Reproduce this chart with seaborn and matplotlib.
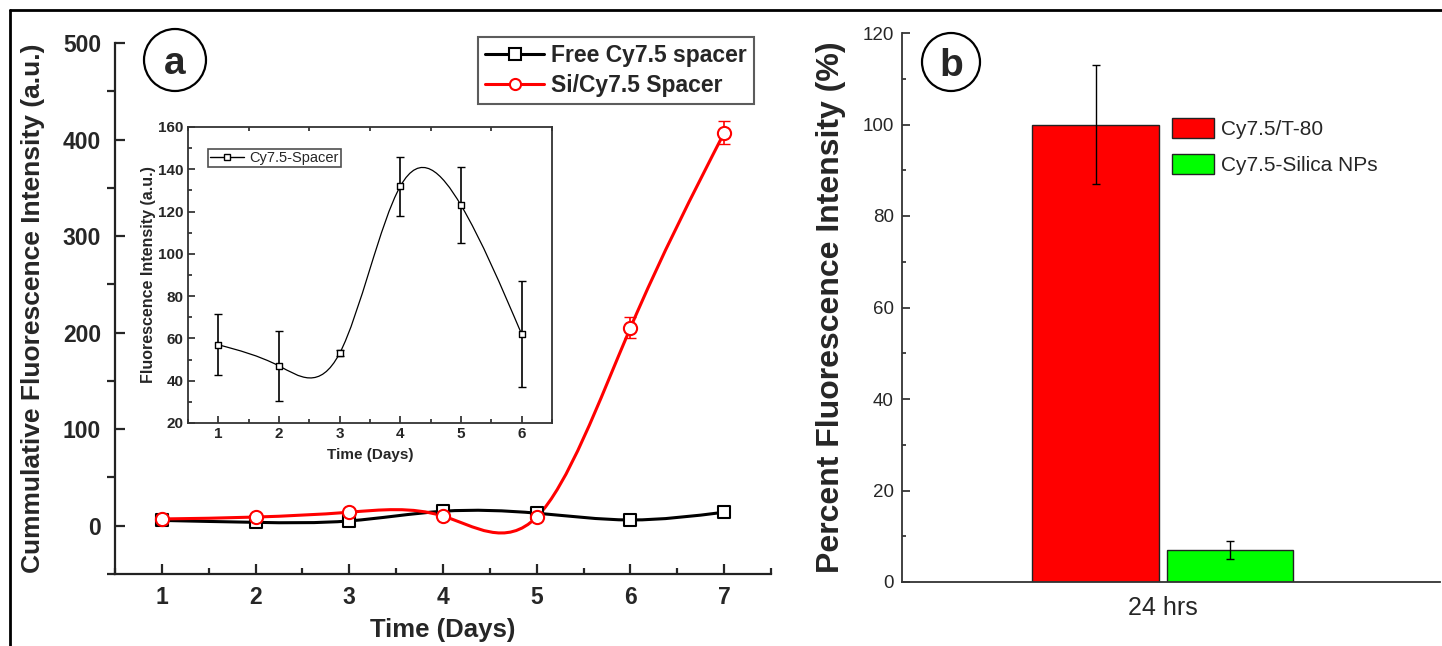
import numpy as np
import pandas as pd
import seaborn as sns
import matplotlib
matplotlib.use('Agg')
import matplotlib.pyplot as plt
from matplotlib.path import Path
from matplotlib.patches import PathPatch, Ellipse, Patch
from matplotlib.lines import Line2D
from matplotlib.ticker import MultipleLocator

# panel a - cumulative release
days = [1, 2, 3, 4, 5, 6, 7]
free_cy75 = [5.5, 3.5, 5, 15, 13, 6, 14]
free_cy75_err = [1.5, 1.5, 1.5, 2, 2, 1.5, 2]
si_cy75 = [7, 9, 14, 10, 9, 205, 407]
si_cy75_err = [2, 2, 2, 3, 3, 11, 12]

# inset
inset_days = [1, 2, 3, 4, 5, 6]
inset_spacer = [57, 47, 53, 132, 123, 62]
inset_err = [14.5, 16.5, 1.5, 14, 18, 25]

# panel b
bar_group = ['24 hrs', '24 hrs']
bar_labels = ['Cy7.5/T-80', 'Cy7.5-Silica NPs']
bar_values = [100, 7]
bar_err = [13, 2]
bar_colors = ['#ff0000', '#00ff00']

W, H = 1442, 646

sns.set_style('ticks')
plt.rcParams['font.family'] = ['Liberation Sans', 'DejaVu Sans']


def spline_path(x, y):
    # natural cubic spline written as bezier segments (origin "spline" connect)
    x = np.asarray(x, float)
    y = np.asarray(y, float)
    n = len(x)
    h = np.diff(x)
    A = np.zeros((n, n))
    r = np.zeros(n)
    A[0, 0] = A[-1, -1] = 1
    for i in range(1, n - 1):
        A[i, i - 1] = h[i - 1]
        A[i, i] = 2 * (h[i - 1] + h[i])
        A[i, i + 1] = h[i]
        r[i] = 6 * ((y[i + 1] - y[i]) / h[i] - (y[i] - y[i - 1]) / h[i - 1])
    M = np.linalg.solve(A, r)
    d = np.zeros(n)
    for i in range(n - 1):
        d[i] = (y[i + 1] - y[i]) / h[i] - h[i] * (2 * M[i] + M[i + 1]) / 6
    d[-1] = (y[-1] - y[-2]) / h[-1] + h[-1] * (M[-2] + 2 * M[-1]) / 6
    verts = [(x[0], y[0])]
    codes = [Path.MOVETO]
    for i in range(n - 1):
        verts += [(x[i] + h[i] / 3, y[i] + h[i] * d[i] / 3),
                  (x[i + 1] - h[i] / 3, y[i + 1] - h[i] * d[i + 1] / 3),
                  (x[i + 1], y[i + 1])]
        codes += [Path.CURVE4] * 3
    return Path(verts, codes)


fig = plt.figure(figsize=(W / 100, H / 100), dpi=100)

# ---------------- panel a ----------------
ax = fig.add_axes([115 / W, 1 - 574 / H, (771 - 115) / W, (574 - 43) / H])
ax.add_patch(PathPatch(spline_path(days, free_cy75), fill=False, ec='black', lw=2.2, zorder=2))
ax.add_patch(PathPatch(spline_path(days, si_cy75), fill=False, ec='#ff0000', lw=2.2, zorder=3))
ax.errorbar(days, free_cy75, yerr=free_cy75_err, fmt='none', ecolor='black', elinewidth=1.2, capsize=4, zorder=4)
ax.errorbar(days, si_cy75, yerr=si_cy75_err, fmt='none', ecolor='#ff0000', elinewidth=1.2, capsize=4, zorder=5)
sns.scatterplot(x=days, y=free_cy75, marker='s', s=70, facecolor='white', edgecolor='black', linewidth=1.5, ax=ax, zorder=6)
sns.scatterplot(x=days, y=si_cy75, marker='o', s=90, facecolor='white', edgecolor='#ff0000', linewidth=1.5, ax=ax, zorder=7)

ax.set_xlim(0.5, 7.5)
ax.set_ylim(-50, 500)
ax.xaxis.set_major_locator(MultipleLocator(1))
ax.xaxis.set_minor_locator(MultipleLocator(0.5))
ax.yaxis.set_major_locator(MultipleLocator(100))
ax.yaxis.set_minor_locator(MultipleLocator(50))
for s in ['top', 'right']:
    ax.spines[s].set_visible(False)
for s in ['left', 'bottom']:
    ax.spines[s].set_linewidth(1.6)
    ax.spines[s].set_color('#222222')
ax.tick_params(axis='y', which='major', direction='in', length=7, width=1.6, labelsize=16.5, pad=10)
ax.tick_params(axis='y', which='minor', direction='out', length=6, width=1.6)
ax.tick_params(axis='x', which='major', direction='in', length=7, width=1.6, labelsize=16.5, pad=9)
ax.tick_params(axis='x', which='minor', direction='in', length=4, width=1.6)
for lbl in ax.get_xticklabels() + ax.get_yticklabels():
    lbl.set_fontweight('bold')
ax.set_xlabel('Time (Days)', fontsize=18.5, fontweight='bold', labelpad=6)
ax.set_ylabel('Cummulative Fluorescence Intensity (a.u.)', fontsize=19, fontweight='bold')
ax.yaxis.set_label_coords(-0.107, 0.5)

handles = [Line2D([], [], color='black', lw=2.2, marker='s', ms=8, mfc='white', mec='black', mew=1.5),
           Line2D([], [], color='#ff0000', lw=2.2, marker='o', ms=8, mfc='white', mec='#ff0000', mew=1.5)]
leg = ax.legend(handles, ['Free Cy7.5 spacer', 'Si/Cy7.5 Spacer'], loc='upper right',
                bbox_to_anchor=(0.974, 1.011), borderaxespad=0, fancybox=False,
                handlelength=2.6, handletextpad=0.3, borderpad=0.3, labelspacing=0.3,
                prop={'size': 16.5, 'weight': 'bold'})
leg.get_frame().set_edgecolor('#333333')
leg.get_frame().set_linewidth(1.5)

# ---------------- inset ----------------
axi = fig.add_axes([188 / W, 1 - 423 / H, (552 - 188) / W, (423 - 127) / H])
axi.add_patch(PathPatch(spline_path(inset_days, inset_spacer), fill=False, ec='black', lw=0.9, zorder=2))
axi.errorbar(inset_days, inset_spacer, yerr=inset_err, fmt='none', ecolor='black', elinewidth=1.2, capsize=3, zorder=3)
sns.scatterplot(x=inset_days, y=inset_spacer, marker='s', s=18, facecolor='white', edgecolor='black', linewidth=1, ax=axi, zorder=4)
axi.set_xlim(0.5, 6.5)
axi.set_ylim(20, 160)
axi.xaxis.set_major_locator(MultipleLocator(1))
axi.xaxis.set_minor_locator(MultipleLocator(0.5))
axi.yaxis.set_major_locator(MultipleLocator(20))
axi.yaxis.set_minor_locator(MultipleLocator(10))
for s in axi.spines.values():
    s.set_linewidth(1.3)
    s.set_color('#333333')
axi.tick_params(which='major', direction='in', length=5, width=1.2, labelsize=11, pad=3)
axi.tick_params(which='minor', direction='in', length=3, width=1.2)
axi.tick_params(axis='x', which='minor', top=True)
for lbl in axi.get_xticklabels() + axi.get_yticklabels():
    lbl.set_fontweight('bold')
axi.set_xlabel('Time (Days)', fontsize=11, fontweight='bold', labelpad=5)
axi.set_ylabel('Fluorescence Intensity (a.u.)', fontsize=11.5, fontweight='bold', labelpad=2)
ih = [Line2D([], [], color='black', lw=1, marker='s', ms=4, mfc='white', mec='black', mew=1)]
ileg = axi.legend(ih, ['Cy7.5-Spacer'], loc='upper left', bbox_to_anchor=(0.055, 0.926),
                  borderaxespad=0, fancybox=False, handlelength=2.3, handletextpad=0.4,
                  borderpad=0.15, prop={'size': 10.5})
ileg.get_frame().set_edgecolor('#222222')
ileg.get_frame().set_linewidth(1.2)

# ---------------- panel b ----------------
axb = fig.add_axes([902 / W, 1 - 582 / H, (1440 - 902) / W, (582 - 33) / H])
df = pd.DataFrame({'group': bar_group, 'sample': bar_labels, 'value': bar_values})
sns.barplot(data=df, x='group', y='value', hue='sample', palette=bar_colors, saturation=1,
            width=0.5, gap=0.06, edgecolor='#222222', linewidth=1, errorbar=None, legend=False, ax=axb)
centers = [p.get_x() + p.get_width() / 2 for p in axb.patches[:len(bar_values)]]
axb.errorbar(centers, bar_values, yerr=bar_err, fmt='none', ecolor='black', elinewidth=1, capsize=3)
axb.set_xlim(-0.485, 0.515)
axb.set_ylim(0, 120)
axb.yaxis.set_major_locator(MultipleLocator(20))
axb.yaxis.set_minor_locator(MultipleLocator(10))
for s in ['top', 'right']:
    axb.spines[s].set_visible(False)
for s in ['left', 'bottom']:
    axb.spines[s].set_linewidth(1.3)
    axb.spines[s].set_color('#333333')
axb.tick_params(axis='y', which='major', direction='in', length=6, width=1.2, labelsize=13.5, pad=6)
axb.tick_params(axis='y', which='minor', direction='in', length=3, width=1.2)
axb.tick_params(axis='x', length=0, labelsize=18, pad=10)
axb.set_xlabel('')
axb.set_ylabel('Percent Fluorescence Intensity (%)', fontsize=23, fontweight='bold')
axb.yaxis.set_label_coords(-0.104, 0.5)
bh = [Patch(facecolor=c, edgecolor='#222222', lw=1) for c in bar_colors]
axb.legend(bh, bar_labels, loc='upper left', bbox_to_anchor=(0.502, 0.846), borderaxespad=0,
           frameon=False, handlelength=2.0, handleheight=1.1, handletextpad=0.35,
           labelspacing=0.75, borderpad=0, prop={'size': 15})

# ---------------- panel letters and frame ----------------
for cx, cy, r, letter in [(175, 60, 31, 'a'), (951, 62, 29, 'b')]:
    fig.add_artist(Ellipse((cx / W, 1 - cy / H), 2 * r / W, 2 * r / H, transform=fig.transFigure,
                           fill=False, ec='black', lw=1.6))
    fig.text(cx / W, 1 - cy / H, letter, ha='center', va='center_baseline', fontsize=28, fontweight='bold')

fig.add_artist(Line2D([10 / W, 1], [1 - 10 / H, 1 - 10 / H], transform=fig.transFigure, color='black', lw=2))
fig.add_artist(Line2D([10 / W, 10 / W], [0, 1 - 10 / H], transform=fig.transFigure, color='black', lw=2))

plt.savefig('out.png', dpi=100)
